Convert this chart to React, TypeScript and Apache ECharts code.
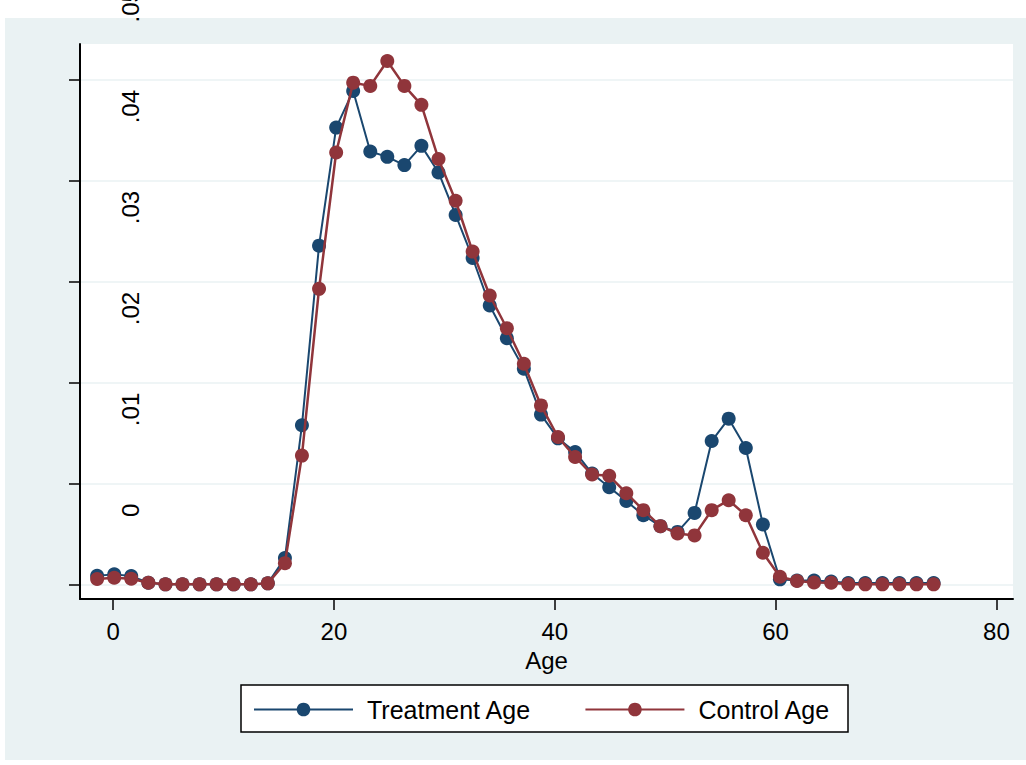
import React, { useEffect, useRef } from "react";
import * as echarts from "echarts";

const ages = [
  -1.45, 0.1, 1.64, 3.19, 4.74, 6.28, 7.83, 9.37, 10.92, 12.47, 14.01, 15.56,
  17.1, 18.65, 20.2, 21.74, 23.29, 24.83, 26.38, 27.92, 29.47, 31.02, 32.56,
  34.11, 35.66, 37.2, 38.75, 40.29, 41.84, 43.38, 44.93, 46.48, 48.02, 49.57,
  51.12, 52.66, 54.21, 55.75, 57.3, 58.85, 60.39, 61.94, 63.48, 65.03, 66.58,
  68.12, 69.67, 71.21, 72.76, 74.31,
];

const treatmentAge = [
  0.00085, 0.00099, 0.00082, 0.00016, 0, 0, 0, 0, 0, 0, 0.0001, 0.0026,
  0.01576, 0.03356, 0.04526, 0.04889, 0.04289, 0.04236, 0.04154, 0.04345,
  0.04081, 0.0366, 0.03234, 0.02763, 0.02439, 0.02136, 0.01682, 0.01447,
  0.01312, 0.01098, 0.00962, 0.00827, 0.00685, 0.00577, 0.0052, 0.00708,
  0.0142, 0.01642, 0.01351, 0.00593, 0.0005, 0.00038, 0.00038, 0.00028,
  0.00013, 0.00013, 0.00013, 0.00013, 0.00013, 0.00013,
];

const controlAge = [
  0.00053, 0.00065, 0.00056, 0.00016, 0, 0, 0, 0, 0, 0, 0.0001, 0.0021,
  0.01276, 0.02928, 0.04279, 0.04971, 0.04939, 0.05186, 0.04939, 0.04751,
  0.04214, 0.03801, 0.03297, 0.02862, 0.02538, 0.02186, 0.01773, 0.0146,
  0.01262, 0.01088, 0.01076, 0.00903, 0.00735, 0.00577, 0.00504, 0.00485,
  0.00735, 0.00834, 0.00685, 0.00313, 0.00075, 0.00033, 0.00018, 0.00016, 0,
  0, 0, 0, 0, 0,
];

const xTicks = [0, 20, 40, 60, 80];
const yTicks = [0, 0.01, 0.02, 0.03, 0.04, 0.05];
const seriesNames = ["Treatment Age", "Control Age"];

const BLUE = "#1a476f";
const RED = "#90353b";
const PANEL = "#eaf2f3";
const FONT = "'Liberation Sans', Arial, Helvetica, sans-serif";

const fmtY = (v: number) => {
  if (Math.abs(v) < 1e-9) return "0";
  return v.toFixed(2).replace(/^0/, "");
};

export default function App() {
  const ref = useRef<HTMLDivElement>(null);

  useEffect(() => {
    if (!ref.current) return;
    const chart = echarts.init(ref.current, undefined, { renderer: "svg" });
    const pairs = (ys: number[]) => ages.map((a, i) => [a, ys[i]]);

    chart.setOption({
      animation: false,
      backgroundColor: "#ffffff",
      textStyle: { fontFamily: FONT },
      graphic: [
        {
          type: "rect",
          z: -10,
          silent: true,
          shape: { x: 5, y: 18, width: 1021, height: 742 },
          style: { fill: PANEL },
        },
        {
          type: "rect",
          z: 5,
          silent: true,
          shape: { x: 241, y: 685, width: 607, height: 47 },
          style: { fill: "#ffffff", stroke: "#000000", lineWidth: 1.5 },
        },
      ],
      grid: {
        left: 80,
        right: 13,
        top: 44,
        bottom: 166,
        show: true,
        backgroundColor: "#ffffff",
        borderWidth: 0,
        containLabel: false,
        outerBoundsMode: "none",
      },
      legend: {
        data: seriesNames,
        left: 253,
        top: 697,
        z: 10,
        padding: 0,
        itemGap: 53,
        itemWidth: 99,
        itemHeight: 17,
        textStyle: {
          fontFamily: FONT,
          fontSize: 25,
          color: "#000",
          padding: [0, 0, 0, 9],
        },
      },
      xAxis: {
        type: "value",
        min: -3,
        max: 81.5,
        name: "Age",
        nameLocation: "middle",
        nameGap: 49,
        nameTextStyle: { fontFamily: FONT, fontSize: 24, color: "#000" },
        axisLine: { show: true, onZero: false, lineStyle: { color: "#000", width: 2 } },
        axisTick: {
          show: true,
          length: 11,
          customValues: xTicks,
          lineStyle: { color: "#000", width: 1.5 },
        },
        axisLabel: {
          customValues: xTicks,
          margin: 20,
          fontFamily: FONT,
          fontSize: 24,
          color: "#000",
        },
        splitLine: { show: false },
      },
      yAxis: {
        type: "value",
        min: -0.00145,
        max: 0.05354,
        axisLine: { show: true, onZero: false, lineStyle: { color: "#000", width: 2 } },
        axisTick: {
          show: true,
          length: 11,
          customValues: yTicks,
          lineStyle: { color: "#000", width: 1.5 },
        },
        axisLabel: {
          customValues: yTicks,
          inside: true,
          rotate: 90,
          margin: 50,
          align: "center",
          verticalAlign: "middle",
          padding: [0, 0, 0, 148],
          formatter: (v: number) => fmtY(v),
          fontFamily: FONT,
          fontSize: 24,
          color: "#000",
        },
        splitLine: { show: true, lineStyle: { color: PANEL, width: 1.5 } },
      },
      series: [
        {
          name: seriesNames[0],
          type: "line",
          data: pairs(treatmentAge),
          symbol: "circle",
          symbolSize: 14,
          z: 2,
          lineStyle: { color: BLUE, width: 2 },
          itemStyle: { color: BLUE },
        },
        {
          name: seriesNames[1],
          type: "line",
          data: pairs(controlAge),
          symbol: "circle",
          symbolSize: 14,
          z: 3,
          lineStyle: { color: RED, width: 2.5 },
          itemStyle: { color: RED },
        },
      ],
    });

    return () => chart.dispose();
  }, []);

  return (
    <div
      ref={ref}
      style={{ position: "absolute", left: 0, top: 0, width: 1026, height: 765 }}
    />
  );
}
